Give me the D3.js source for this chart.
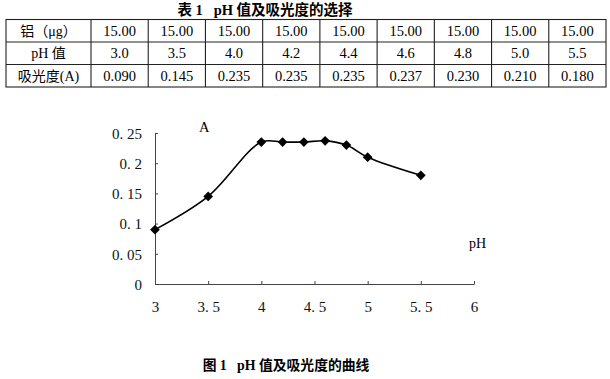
<!DOCTYPE html>
<html><head><meta charset="utf-8">
<script src="https://cdn.jsdelivr.net/npm/d3@7/dist/d3.min.js"></script>
<style>body{margin:0;background:#fff}svg{display:block}text{white-space:pre}</style>
</head><body>
<svg id="c" width="610" height="379"></svg>
<script>
const rowHeaders = ["铝（μg）", "pH 值", "吸光度(A)"];
const aluminum = ["15.00","15.00","15.00","15.00","15.00","15.00","15.00","15.00","15.00"];
const phLabels = ["3.0","3.5","4.0","4.2","4.4","4.6","4.8","5.0","5.5"];
const absLabels = ["0.090","0.145","0.235","0.235","0.235","0.237","0.230","0.210","0.180"];
const phValues = [3.0,3.5,4.0,4.2,4.4,4.6,4.8,5.0,5.5];
const absValues = [0.090,0.145,0.235,0.235,0.235,0.237,0.230,0.210,0.180];
const xTicks = [3,3.5,4,4.5,5,5.5,6];
const xTickLabels = ["3","3. 5","4","4. 5","5","5. 5","6"];
const yTicks = [0,0.05,0.1,0.15,0.2,0.25];
const yTickLabels = ["0","0. 05","0. 1","0. 15","0. 2","0. 25"];
const tableTitle = "表 1   pH 值及吸光度的选择";
const figCaption = "图 1   pH 值及吸光度的曲线";

const svg = d3.select("#c");
const serif = "'Liberation Serif','Times New Roman',serif";
const cjk = "'Liberation Serif','Noto Sans CJK SC',serif";

// Table
svg.append("text").attr("x",265).attr("y",15).attr("text-anchor","middle").attr("xml:space","preserve")
  .attr("font-family",cjk).attr("font-weight","bold").attr("font-size",14.5).text(tableTitle);

const rows = [aluminum, phLabels, absLabels];
const colX = d3.scaleLinear().domain([0,9]).range([91,606]);
const rowY = d3.scaleLinear().domain([0,3]).range([19.5,87]);
const tg = svg.append("g").attr("stroke","#222").attr("stroke-width",1.1);
tg.append("rect").attr("x",6).attr("y",rowY(0)).attr("width",606-6).attr("height",rowY(3)-rowY(0)).attr("fill","none");
[1,2].forEach(r=>tg.append("line").attr("x1",6).attr("x2",606).attr("y1",rowY(r)).attr("y2",rowY(r)));
d3.range(0,9).forEach(c=>tg.append("line").attr("x1",colX(c)).attr("x2",colX(c)).attr("y1",rowY(0)).attr("y2",rowY(3)));
rowHeaders.forEach((h,r)=>{
  svg.append("text").attr("x",48.5).attr("y",(rowY(r)+rowY(r+1))/2+5).attr("text-anchor","middle")
    .attr("font-family",cjk).attr("font-size",14).text(h);
});
rows.forEach((row,r)=>row.forEach((v,c)=>{
  svg.append("text").attr("x",(colX(c)+colX(c+1))/2).attr("y",(rowY(r)+rowY(r+1))/2+5)
    .attr("text-anchor","middle").attr("font-family",serif).attr("font-size",14.5).text(v);
}));

// Chart
const x = d3.scaleLinear().domain([3,6]).range([155,474]);
const y = d3.scaleLinear().domain([0,0.25]).range([284,133]);
const axisColor = "#444";
const xa = svg.append("g").attr("transform","translate(0,284)")
  .call(d3.axisBottom(x).tickValues(xTicks).tickSizeInner(-3).tickSizeOuter(0).tickFormat((d,i)=>xTickLabels[i]));
const ya = svg.append("g").attr("transform","translate(155,0)")
  .call(d3.axisLeft(y).tickValues(yTicks).tickSizeInner(-3).tickSizeOuter(0).tickFormat((d,i)=>yTickLabels[i]));
[xa,ya].forEach(a=>{
  a.select(".domain").attr("stroke",axisColor).attr("stroke-width",1);
  a.selectAll(".tick line").attr("stroke",axisColor);
  a.selectAll("text").attr("fill","#111").attr("font-family",serif).attr("font-size",15);
});
xa.selectAll("text").attr("dy",null).attr("y",28);
ya.selectAll("text").attr("x",-13).attr("dy","0.35em");

const line = d3.line().x(d=>x(d[0])).y(d=>y(d[1])).curve(d3.curveCatmullRom.alpha(0.5));
const pts = phValues.map((p,i)=>[p,absValues[i]]);
svg.append("path").datum(pts).attr("d",line).attr("fill","none").attr("stroke","#000").attr("stroke-width",1.6);
svg.selectAll(".pt").data(pts).enter().append("path")
  .attr("transform",d=>`translate(${x(d[0])},${y(d[1])})`)
  .attr("d",d3.symbol().type(d3.symbolDiamond2).size(60)).attr("fill","#000");

svg.append("text").attr("x",199).attr("y",132).attr("font-family",serif).attr("font-size",14.5).text("A");
svg.append("text").attr("x",469).attr("y",248).attr("font-family",serif).attr("font-size",14).text("pH");

svg.append("text").attr("x",286).attr("y",370).attr("text-anchor","middle").attr("xml:space","preserve")
  .attr("font-family",cjk).attr("font-weight","bold").attr("font-size",13.8).text(figCaption);
</script>
</body></html>
